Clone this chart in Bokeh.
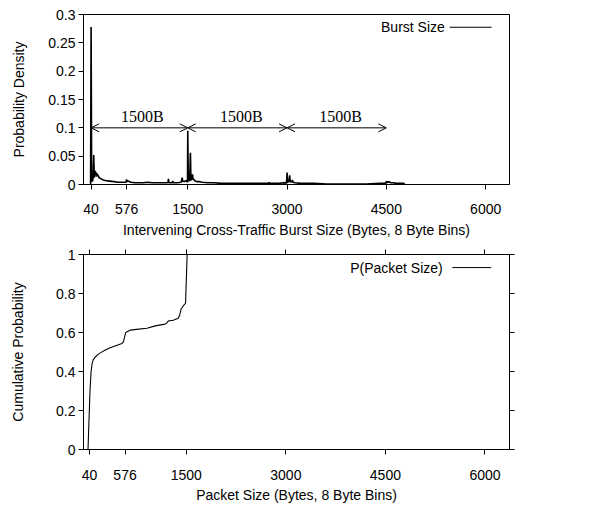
from bokeh.plotting import figure
from bokeh.layouts import column
from bokeh.models import (Range1d, FixedTicker, LinearAxis, Arrow, OpenHead,
                          ColumnDataSource, Label, NumeralTickFormatter,
                          CustomLabelingPolicy)
from bokeh.core.properties import value
from bokeh.embed import file_html
from bokeh.resources import INLINE

SANS = "Liberation Sans"
SERIF = "Liberation Serif"

# ---------------- data ----------------
x_ticks = [40, 576, 1500, 3000, 4500, 6000]
burst_y_ticks = [0, 0.05, 0.1, 0.15, 0.2, 0.25, 0.3]
cdf_y_ticks = [0, 0.2, 0.4, 0.6, 0.8, 1.0]

# Intervening cross-traffic burst size density (8 byte bins)
burst_bytes = [24, 32, 40, 48, 56, 64, 72, 80, 88, 96, 104, 112, 120, 128, 144, 160,
               192, 224, 256, 320, 384, 448, 512, 560, 568, 576, 584, 600, 640, 704,
               768, 832, 896, 960, 1024, 1088, 1152, 1200, 1208, 1216, 1232, 1264,
               1272, 1280, 1344, 1400, 1416, 1424, 1432, 1448, 1472, 1488, 1496, 1500,
               1508, 1520, 1528, 1540, 1548, 1556, 1564, 1572, 1580, 1588, 1600, 1616,
               1640, 1680, 1720, 1800, 1900, 2000, 2100, 2200, 2400, 2600, 2720, 2728,
               2736, 2800, 2880, 2944, 2960, 2976, 2992, 3000, 3008, 3016, 3024, 3040,
               3048, 3056, 3064, 3080, 3088, 3096, 3120, 3200, 3300, 3400, 3600, 3800,
               4000, 4200, 4400, 4480, 4492, 4500, 4508, 4520, 4530, 4544, 4560, 4600,
               4650, 4700, 4760, 4780]
burst_density = [0.0, 0.0, 0.278, 0.004, 0.018, 0.006, 0.019, 0.052, 0.012, 0.024, 0.022,
                 0.021, 0.014, 0.019, 0.016, 0.012, 0.010, 0.008, 0.007, 0.006, 0.005,
                 0.004, 0.004, 0.004, 0.004, 0.009, 0.005, 0.006, 0.004, 0.003, 0.003,
                 0.003, 0.004, 0.003, 0.003, 0.003, 0.003, 0.003, 0.010, 0.003, 0.003,
                 0.003, 0.006, 0.003, 0.003, 0.004, 0.012, 0.005, 0.006, 0.005, 0.007,
                 0.005, 0.004, 0.095, 0.006, 0.008, 0.006, 0.056, 0.007, 0.010, 0.008,
                 0.018, 0.009, 0.010, 0.007, 0.006, 0.005, 0.005, 0.004, 0.003, 0.003,
                 0.002, 0.002, 0.002, 0.002, 0.002, 0.002, 0.004, 0.002, 0.002, 0.002,
                 0.003, 0.002, 0.004, 0.002, 0.021, 0.003, 0.006, 0.004, 0.016, 0.004,
                 0.005, 0.004, 0.008, 0.004, 0.004, 0.003, 0.002, 0.002, 0.002, 0.001,
                 0.001, 0.001, 0.001, 0.002, 0.002, 0.002, 0.006, 0.003, 0.005, 0.004,
                 0.005, 0.003, 0.003, 0.002, 0.002, 0.002, 0.0]

# Cumulative distribution of packet size
pkt_size = [18, 48, 64, 80, 96, 124, 170, 216, 280, 341, 404, 467, 530, 552, 568, 584,
            600, 655, 750, 906, 1031, 1178, 1199, 1216, 1240, 1303, 1378, 1400, 1420,
            1450, 1488, 1512, 3150]
pkt_cdf = [0.0, 0.30, 0.40, 0.44, 0.46, 0.473, 0.488, 0.498, 0.51, 0.52, 0.528, 0.536,
           0.544, 0.553, 0.575, 0.598, 0.603, 0.612, 0.616, 0.622, 0.634, 0.643, 0.646,
           0.655, 0.66, 0.663, 0.673, 0.69, 0.719, 0.735, 0.75, 1.0, 1.0]

# 1500B spacing arrows
arrow_from = [40, 1500, 3000]
arrow_to = [1500, 3000, 4500]
arrow_level = [0.1, 0.1, 0.1]
arrow_text = ["1500B", "1500B", "1500B"]
arrow_text_x = [815, 2310, 3810]
arrow_text_y = [0.1195, 0.1195, 0.1195]


def base_axes(p, yticks):
    p.xaxis.ticker = FixedTicker(ticks=x_ticks)
    p.yaxis.ticker = FixedTicker(ticks=yticks)
    p.yaxis.formatter = NumeralTickFormatter(format="0.[00]")
    for ax in (p.xaxis[0], p.yaxis[0]):
        ax.major_tick_in = 0
        ax.major_tick_out = 5
        ax.minor_tick_line_color = None
        ax.axis_line_color = "black"
        ax.major_tick_line_color = "black"
        ax.major_label_text_font = SANS
        ax.major_label_text_font_size = "14px"
        ax.major_label_text_color = "black"
        ax.axis_label_text_font = SANS
        ax.axis_label_text_font_size = "14px"
        ax.axis_label_text_font_style = "normal"
        ax.axis_label_text_color = "black"
    p.xaxis.major_label_standoff = 14
    p.xaxis.axis_label_standoff = 5
    p.yaxis.major_label_standoff = 3
    p.grid.grid_line_color = None
    p.outline_line_color = "black"
    p.outline_line_alpha = 1
    p.background_fill_color = "white"
    p.border_fill_color = "white"


# ---------------- top: burst size density ----------------
p1 = figure(width=605, height=240, output_backend="svg", toolbar_location=None,
            x_range=Range1d(-75, 6360), y_range=Range1d(0, 0.3),
            min_border_left=83, min_border_right=96, min_border_top=14,
            min_border_bottom=54)
base_axes(p1, burst_y_ticks)
p1.yaxis.axis_label_standoff = 18
p1.xaxis.axis_label = "Intervening Cross-Traffic Burst Size (Bytes, 8 Byte Bins)"
p1.yaxis.axis_label = "Probability Density"

p1.line(burst_bytes, burst_density, line_color="black", line_width=1.6)

asrc = ColumnDataSource(dict(x0=arrow_from, x1=arrow_to, y=arrow_level))
p1.add_layout(Arrow(start=OpenHead(size=8, line_width=1, line_color="black"),
                    end=OpenHead(size=8, line_width=1, line_color="black"),
                    x_start="x0", y_start="y", x_end="x1", y_end="y",
                    source=asrc, line_width=1, line_color="black"))
tsrc = ColumnDataSource(dict(x=arrow_text_x, y=arrow_text_y, t=arrow_text))
p1.text(x="x", y="y", text="t", source=tsrc, text_font=value(SERIF),
        text_font_size="16px", text_align="center", text_baseline="middle",
        text_color="black")

# legend (text left of sample line, gnuplot style)
p1.add_layout(Label(x=5383, y=0.2775, text="Burst Size", text_align="right",
                    text_baseline="middle", text_font=SANS, text_font_size="14px",
                    text_color="black"))
p1.add_layout(Arrow(start=None, end=None, x_start=5455, y_start=0.2775, x_end=6090,
                    y_end=0.2775, line_width=1, line_color="black"))

# ---------------- bottom: packet size CDF ----------------
p2 = figure(width=605, height=266, output_backend="svg", toolbar_location=None,
            x_range=Range1d(-50, 6370), y_range=Range1d(0, 1),
            min_border_left=81, min_border_right=84, min_border_top=14,
            min_border_bottom=57)
base_axes(p2, cdf_y_ticks)
p2.xaxis.major_label_standoff = 15
p2.xaxis.axis_label_standoff = 4
p2.yaxis.axis_label_standoff = 27
p2.xaxis.axis_label = "Packet Size (Bytes, 8 Byte Bins)"
p2.yaxis.axis_label = "Cumulative Probability"

hide_all = CustomLabelingPolicy(code="""
const all = [...indices]
for (const i of all) indices.unset(i)
""")
for loc, ticks in (("above", x_ticks), ("right", cdf_y_ticks)):
    ax = LinearAxis(ticker=FixedTicker(ticks=ticks), major_tick_in=0, major_tick_out=5,
                    minor_tick_line_color=None, axis_line_color=None,
                    major_tick_line_color="black", major_label_text_font_size="1px",
                    major_label_standoff=0, major_label_policy=hide_all)
    p2.add_layout(ax, loc)

p2.line(pkt_size, pkt_cdf, line_color="black", line_width=1.1)

p2.add_layout(Label(x=5364, y=0.933, text="P(Packet Size)", text_align="right",
                    text_baseline="middle", text_font=SANS, text_font_size="14px",
                    text_color="black"))
p2.add_layout(Arrow(start=None, end=None, x_start=5510, y_start=0.933, x_end=6094,
                    y_end=0.933, line_width=1, line_color="black"))

layout = column(p1, p2, spacing=0)
open("out.html", "w").write(file_html(layout, INLINE))
